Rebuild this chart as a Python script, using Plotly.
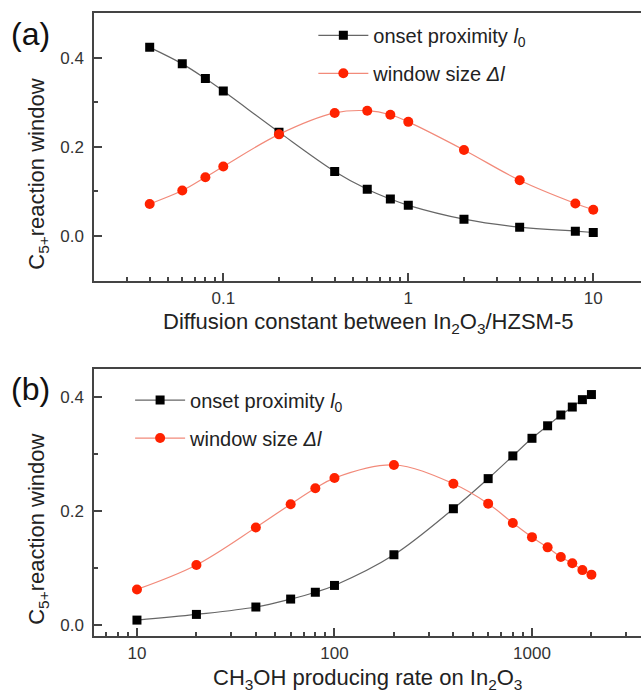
import plotly.graph_objects as go

# ---- data: panel (a) ----
diff_const = [0.04, 0.06, 0.08, 0.1, 0.2, 0.4, 0.6, 0.8, 1, 2, 4, 8, 10]
onset_a = [0.423, 0.386, 0.353, 0.325, 0.233, 0.145, 0.105, 0.083, 0.069, 0.038, 0.020, 0.011, 0.008]
window_a = [0.072, 0.102, 0.132, 0.156, 0.228, 0.276, 0.281, 0.272, 0.256, 0.193, 0.125, 0.073, 0.059]

# ---- data: panel (b) ----
meoh_rate = [10, 20, 40, 60, 80, 100, 200, 400, 600, 800, 1000, 1200, 1400, 1600, 1800, 2000]
onset_b = [0.008, 0.018, 0.031, 0.045, 0.057, 0.069, 0.123, 0.204, 0.257, 0.297, 0.328, 0.350, 0.369, 0.383, 0.396, 0.405]
window_b = [0.062, 0.105, 0.171, 0.212, 0.240, 0.258, 0.281, 0.248, 0.213, 0.179, 0.154, 0.136, 0.119, 0.108, 0.096, 0.088]

# tick labels
xa_ticks = [0.1, 1, 10]
xa_ticktext = ["0.1", "1", "10"]
xa_minor = [0.02, 0.03, 0.04, 0.05, 0.06, 0.07, 0.08, 0.09,
            0.2, 0.3, 0.4, 0.5, 0.6, 0.7, 0.8, 0.9,
            2, 3, 4, 5, 6, 7, 8, 9]
xb_ticks = [10, 100, 1000]
xb_ticktext = ["10", "100", "1000"]
xb_minor = [6, 7, 8, 9, 20, 30, 40, 50, 60, 70, 80, 90,
            200, 300, 400, 500, 600, 700, 800, 900, 2000, 3000]
y_ticks = [0.0, 0.2, 0.4]
y_ticktext = ["0.0", "0.2", "0.4"]
ya_minor = [0.1, 0.3]
yb_minor = [0.1, 0.3]

name_onset = "onset proximity <i>l</i><sub>0</sub>"
name_window = "window size <i>Δl</i>"

FONT = "Liberation Sans, Arial, sans-serif"
BLACK_LINE = "#666666"
RED_LINE = "#f28a7a"
RED_MK = "#ff2200"
AXC = "#444444"

fig = go.Figure()

fig.add_trace(go.Scatter(x=diff_const, y=onset_a, name=name_onset, mode="lines+markers",
                         line=dict(color=BLACK_LINE, width=1.2, shape="spline"),
                         marker=dict(symbol="square", size=9, color="black"),
                         xaxis="x", yaxis="y", legend="legend", legendgroup="a1"))
fig.add_trace(go.Scatter(x=diff_const, y=window_a, name=name_window, mode="lines+markers",
                         line=dict(color=RED_LINE, width=1.2, shape="spline"),
                         marker=dict(symbol="circle", size=10, color=RED_MK),
                         xaxis="x", yaxis="y", legend="legend", legendgroup="a2"))
fig.add_trace(go.Scatter(x=meoh_rate, y=onset_b, name=name_onset, mode="lines+markers",
                         line=dict(color=BLACK_LINE, width=1.2, shape="spline"),
                         marker=dict(symbol="square", size=9, color="black"),
                         xaxis="x2", yaxis="y2", legend="legend2", legendgroup="b1"))
fig.add_trace(go.Scatter(x=meoh_rate, y=window_b, name=name_window, mode="lines+markers",
                         line=dict(color=RED_LINE, width=1.2, shape="spline"),
                         marker=dict(symbol="circle", size=10, color=RED_MK),
                         xaxis="x2", yaxis="y2", legend="legend2", legendgroup="b2"))

axis_common = dict(showgrid=False, zeroline=False, showline=True, linecolor=AXC, linewidth=1.5,
                   ticks="inside", ticklen=8, tickwidth=1.5, tickcolor=AXC,
                   tickfont=dict(family=FONT, size=17, color="#333333"))

def minor(vals):
    return dict(tickmode="array", tickvals=vals, ticks="inside", ticklen=4,
                tickwidth=1.5, tickcolor=AXC, showgrid=False)

fig.update_layout(
    width=641, height=693,
    margin=dict(l=94, r=0, t=13, b=57),
    paper_bgcolor="white", plot_bgcolor="white",
    font=dict(family=FONT, color="#222222"),
    xaxis=dict(type="log", range=[-1.699, 1.258], anchor="y", domain=[0, 1], mirror=True,
               tickmode="array", tickvals=xa_ticks, ticktext=xa_ticktext,
               minor=minor(xa_minor), ticklabelstandoff=1, **axis_common),
    yaxis=dict(range=[-0.1, 0.5], anchor="x", domain=[0.5703, 1.0], mirror=False,
               tickmode="array", tickvals=y_ticks, ticktext=y_ticktext,
               minor=minor(ya_minor), ticklabelstandoff=5, **axis_common),
    xaxis2=dict(type="log", range=[0.7825, 3.552], anchor="y2", domain=[0, 1], mirror=True,
                tickmode="array", tickvals=xb_ticks, ticktext=xb_ticktext,
                minor=minor(xb_minor), ticklabelstandoff=1, **axis_common),
    yaxis2=dict(range=[-0.02, 0.45], anchor="x2", domain=[0.0, 0.4286], mirror=False,
                tickmode="array", tickvals=y_ticks, ticktext=y_ticktext,
                minor=minor(yb_minor), ticklabelstandoff=5, **axis_common),
    legend=dict(x=0.401, y=0.9955, xanchor="left", yanchor="top", bgcolor="rgba(0,0,0,0)",
                font=dict(family=FONT, size=20, color="#222222"), itemwidth=50,
                traceorder="grouped", tracegroupgap=9),
    legend2=dict(x=0.066, y=0.410, xanchor="left", yanchor="top", bgcolor="rgba(0,0,0,0)",
                 font=dict(family=FONT, size=20, color="#222222"), itemwidth=50,
                 traceorder="grouped", tracegroupgap=9),
    showlegend=True,
)

ann_font = dict(family=FONT, size=22, color="#222222")
fig.add_annotation(text="Diffusion constant between In<sub>2</sub>O<sub>3</sub>/HZSM-5",
                   xref="paper", yref="paper", x=0.5, y=0.5032, xanchor="center", yanchor="middle",
                   showarrow=False, font=ann_font)
fig.add_annotation(text="CH<sub>3</sub>OH producing rate on In<sub>2</sub>O<sub>3</sub>",
                   xref="paper", yref="paper", x=0.5, y=-0.069, xanchor="center", yanchor="middle",
                   showarrow=False, font=ann_font)
fig.add_annotation(text="C<sub>5+</sub>reaction window", textangle=-90,
                   xref="paper", yref="paper", x=-0.1025, y=0.742, xanchor="center", yanchor="middle",
                   showarrow=False, font=ann_font)
fig.add_annotation(text="C<sub>5+</sub>reaction window", textangle=-90,
                   xref="paper", yref="paper", x=-0.1025, y=0.172, xanchor="center", yanchor="middle",
                   showarrow=False, font=ann_font)
fig.add_annotation(text="(a)", xref="paper", yref="paper", x=-0.1170, y=0.966,
                   xanchor="center", yanchor="middle", showarrow=False,
                   font=dict(family=FONT, size=32, color="#111111"))
fig.add_annotation(text="(b)", xref="paper", yref="paper", x=-0.1152, y=0.396,
                   xanchor="center", yanchor="middle", showarrow=False,
                   font=dict(family=FONT, size=32, color="#111111"))

fig.write_html("out.html", config={"displayModeBar": False},
               post_script="document.body.style.margin='0';document.body.style.overflow='hidden';")
